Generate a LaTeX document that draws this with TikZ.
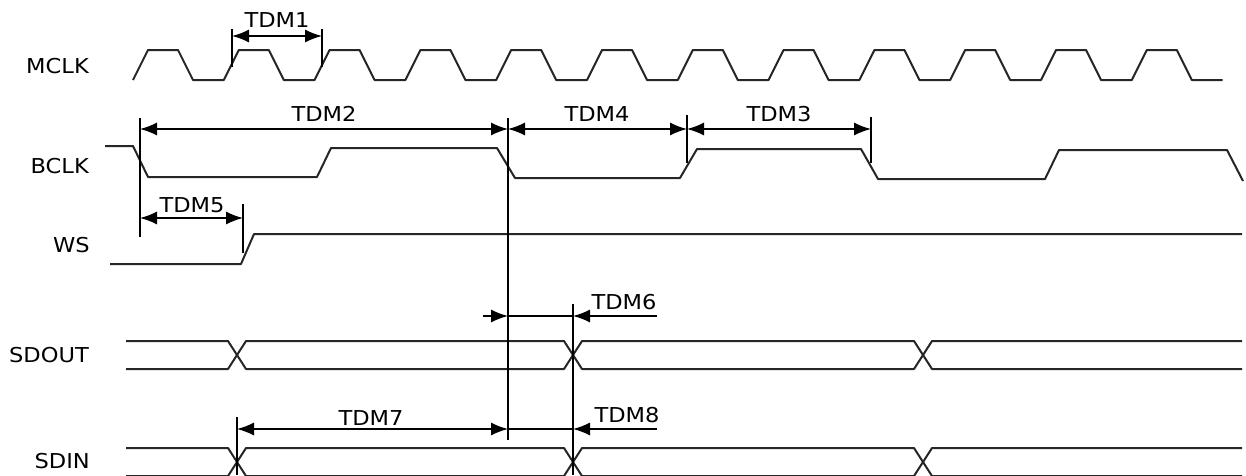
\documentclass[tikz,border=0pt]{standalone}
\usepackage{fontspec}
\setmainfont{DejaVu Sans}[FakeStretch=1.1]
\usetikzlibrary{arrows.meta}
\definecolor{wave}{rgb}{0.15, 0.15, 0.15}

\begin{document}
\begin{tikzpicture}[x=1pt, y=-1pt,
    sig/.style={line width=2pt, wave, line join=round},
    guide/.style={line width=1.4pt},
    both/.style={line width=1.4pt, {Latex[length=17pt,width=13pt]}-{Latex[length=17pt,width=13pt]}},
    onearrow/.style={line width=1.4pt, -{Latex[length=17pt,width=13pt]}},
    every node/.style={font=\fontsize{20.5}{24}\selectfont, inner sep=0pt}]
%      \draw [help lines, opacity=0.5, step=50] (0,0) grid (1246,475);
      \useasboundingbox (0,0) rectangle (1246,475);
      \clip (0,0) rectangle (1246,475);

      % signal names
      \node [anchor=east] (mclk)  at (89,66)  {MCLK};
      \node [anchor=east] (bclk)  at (89,166) {BCLK};
      \node [anchor=east] (ws)    at (90,245) {WS};
      \node [anchor=east] (sdout) at (89,355) {SDOUT};
      \node [anchor=east] (sdin)  at (90,461) {SDIN};

      % waveforms
      \draw [sig] (133,80) \foreach \k in {1,...,12} { -- ++(15,-30) -- ++(30,0) -- ++(15,30) -- ++(30.8,0) };
      \draw [sig] (105,146) -- (133,146) -- (148,177) -- (317,177) -- (331,148) -- (497,148) -- (515,178)
                  -- (680,178) -- (697,149) -- (861,149) -- (878,179) -- (1045,179) -- (1059,150)
                  -- (1227,150) -- (1243,181);
      \draw [sig] (110,264) -- (241,264) -- (254,234) -- (1242,234);
      \foreach \y in {355, 462} {
        \draw [sig] (126,\y-14) -- (228,\y-14) -- (246,\y+14) -- (564,\y+14) -- (582,\y-14)
                    -- (914,\y-14) -- (932,\y+14) -- (1242,\y+14);
        \draw [sig] (126,\y+14) -- (228,\y+14) -- (246,\y-14) -- (564,\y-14) -- (582,\y+14)
                    -- (914,\y+14) -- (932,\y-14) -- (1242,\y-14);
      }

      % reference lines
      \draw [guide] (232,29) -- (232,67);
      \draw [guide] (322,29) -- (322,67);
      \draw [guide] (140,118) -- (140,237);
      \draw [guide] (508,118) -- (508,440);
      \draw [guide] (687,115) -- (687,163);
      \draw [guide] (871,117) -- (871,163);
      \draw [guide] (243,204) -- (243,253);
      \draw [guide] (573,304) -- (573,475);
      \draw [guide] (237,417) -- (237,475);

      % arrow end points
      \coordinate (t1l) at (232,36);  \coordinate (t1r) at (322,36);
      \coordinate (t2l) at (140,129); \coordinate (t2r) at (508,129);
      \coordinate (t3r) at (871,129); \coordinate (t4r) at (687,129);
      \coordinate (t5l) at (140,218); \coordinate (t5r) at (243,218);
      \coordinate (t6a) at (483,316); \coordinate (t6l) at (508,316);
      \coordinate (t6r) at (573,316); \coordinate (t6b) at (657,316);
      \coordinate (t7l) at (237,429); \coordinate (t7r) at (508,429);
      \coordinate (t8r) at (573,429); \coordinate (t8b) at (657,429);

      \draw [both] (t1l) -- (t1r);
      \draw [both] (t2l) -- (t2r);
      \draw [both] (t2r) -- (t4r);
      \draw [both] (t4r) -- (t3r);
      \draw [both] (t5l) -- (t5r);
      \draw [onearrow] (t6a) -- (t6l);
      \draw [guide] (t6l) -- (t6r);
      \draw [onearrow] (t6b) -- (t6r);
      \draw [both] (t7l) -- (t7r);
      \draw [guide] (t7r) -- (t8r);
      \draw [onearrow] (t8b) -- (t8r);

      % timing labels
      \node (tdm1) at (277,20)  {TDM1};
      \node (tdm2) at (324,114) {TDM2};
      \node (tdm4) at (597,114) {TDM4};
      \node (tdm3) at (779,114) {TDM3};
      \node (tdm5) at (192,205) {TDM5};
      \node (tdm6) at (624,302) {TDM6};
      \node (tdm7) at (371,418) {TDM7};
      \node (tdm8) at (627,415) {TDM8};
    \end{tikzpicture}
\end{document}
